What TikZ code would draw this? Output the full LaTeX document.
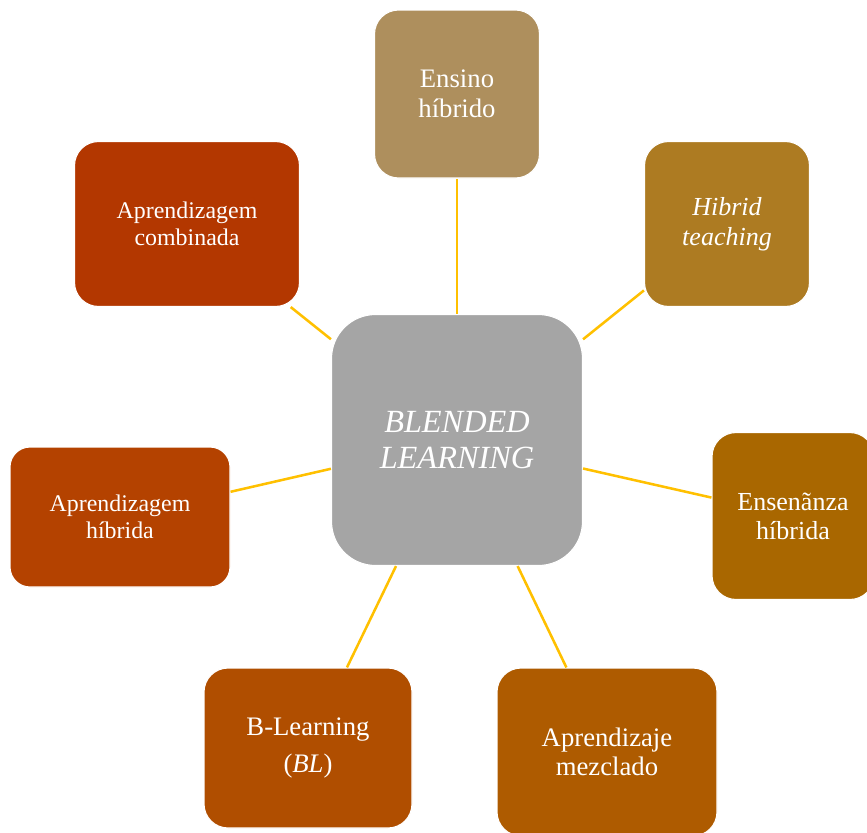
\documentclass[tikz,border=0pt]{standalone}
\usepackage{fontspec}
\setmainfont{Liberation Serif}
\definecolor{ensinocol}{HTML}{AE8F5D}
\definecolor{hibridcol}{HTML}{AD7B22}
\definecolor{combcol}{HTML}{B33700}
\definecolor{aprhibcol}{HTML}{B44200}
\definecolor{ensenancol}{HTML}{A96700}
\definecolor{mezccol}{HTML}{AE5B00}
\definecolor{blcol}{HTML}{B04E00}
\definecolor{centercol}{HTML}{A5A5A5}
\definecolor{linkcol}{HTML}{FFC000}

\begin{document}
\begin{tikzpicture}[%
        fsz/.style 2 args={font=\fontsize{#1}{#2}\selectfont},
        box/.style={draw=white,line width=0.8pt,rounded corners=0.6cm,
            text=white,align=center,inner sep=2pt,fsz={17}{19}},
        hub/.style={box,rounded corners=1.1cm,
            font=\fontsize{23}{25}\selectfont\itshape},
        link/.style={draw=linkcol,line width=1.8pt}]

    \useasboundingbox (0,0) rectangle (21.675,-20.8);

    % satellites are drawn first, the hub on top
    \node[box,fsz={19}{21},fill=ensinocol,minimum width=4.125cm,minimum height=4.2cm]
        (ensino) at (11.425,-2.35) {Ensino\\híbrido};
    \node[box,fsz={18.5}{21},fill=hibridcol,minimum width=4.125cm,minimum height=4.125cm]
        (hibrid) at (18.175,-5.6) {\textit{Hibrid}\\\textit{teaching}};
    \node[box,fill=combcol,minimum width=5.625cm,minimum height=4.125cm]
        (comb) at (4.675,-5.6) {Aprendizagem\\combinada};
    \node[box,fill=aprhibcol,rounded corners=0.5cm,minimum width=5.5cm,minimum height=3.5cm]
        (aprhib) at (3.0,-12.925) {Aprendizagem\\híbrida};
    \node[box,fsz={18.5}{20.5},fill=ensenancol,minimum width=4.05cm,minimum height=4.175cm]
        (ensenanza) at (19.825,-12.9) {Ensenãnza\\híbrida};
    \node[box,fsz={19}{20.5},fill=mezccol,minimum width=5.5cm,minimum height=4.2cm]
        (mezcl) at (15.175,-18.8) {Aprendizaje\\mezclado};
    \node[box,fsz={19}{21},fill=blcol,minimum width=5.2cm,minimum height=4.0cm]
        (blearn) at (7.7,-18.7) {B-Learning\\[6pt](\textit{BL})};

    \node[hub,fill=centercol,minimum width=6.275cm,minimum height=6.275cm]
        (hub) at (11.425,-11.0) {BLENDED\\LEARNING};

    \foreach \n in {ensino,hibrid,comb,aprhib,ensenanza,mezcl,blearn}
        \draw[link] (hub) -- (\n);
\end{tikzpicture}
\end{document}
